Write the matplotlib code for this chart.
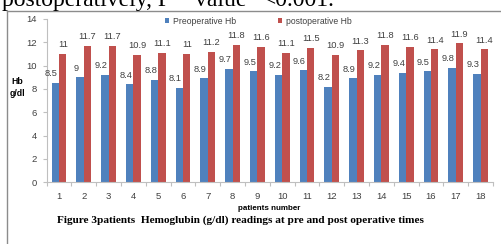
import matplotlib.pyplot as plt
import numpy as np
from matplotlib.lines import Line2D

patients = [str(i) for i in range(1, 19)]
pre_hb = [8.5, 9, 9.2, 8.4, 8.8, 8.1, 8.9, 9.7, 9.5, 9.2, 9.6, 8.2, 8.9, 9.2, 9.4, 9.5, 9.8, 9.3]
post_hb = [11, 11.7, 11.7, 10.9, 11.1, 11, 11.2, 11.8, 11.6, 11.1, 11.5, 10.9, 11.3, 11.8, 11.6, 11.4, 11.9, 11.4]
y_ticks = [0, 2, 4, 6, 8, 10, 12, 14]

BLUE = "#4F81BD"
RED = "#C0504D"
GRID = "#BFBFBF"
TXT = "#404040"
SANS = "Liberation Sans"
SERIF = "Liberation Serif"

fig = plt.figure(figsize=(5.02, 2.44), dpi=100)
W, H = 502, 244


def fx(px):
    return px / W


def fy(py):
    return 1 - py / H


# justified page text above the figure, cut off by the crop
for px, word in [(2, "postoperatively, P"), (195, "value"), (263, "<0.001.")]:
    fig.text(fx(px), fy(6), word, family=SERIF, fontsize=17,
             va="baseline", ha="left", color="black")

# outer frame
fig.add_artist(Line2D([fx(7), fx(7)], [fy(11), 0], color="#8c8c8c", lw=1.0))
fig.add_artist(Line2D([fx(7), 1], [fy(11), fy(11)], color="#8c8c8c", lw=1.0))

ax = fig.add_axes([fx(46.6), fy(182.3), fx(493 - 46.6), (182.3 - 19) / H])
x = np.arange(len(patients))
w = 0.3
b1 = ax.bar(x - w / 2, pre_hb, w, color=BLUE, label="Preoperative Hb")
b2 = ax.bar(x + w / 2, post_hb, w, color=RED, label="postoperative Hb")

for xi, v in zip(x, pre_hb):
    ax.text(xi - w, v + 0.4, f"{v:g}", ha="center", va="bottom",
            fontsize=6.7, color=TXT, family=SANS)
for xi, v in zip(x, post_hb):
    ax.text(xi + w / 2, v + 0.4, f"{v:g}", ha="center", va="bottom",
            fontsize=6.7, color=TXT, family=SANS)

ax.set_xlim(-0.5, len(patients) - 0.5)
ax.set_ylim(0, 14)
ax.set_yticks(y_ticks)
ax.set_yticklabels([str(t) for t in y_ticks], fontsize=6.8, color=TXT, family=SANS)
ax.set_xticks(x)
ax.set_xticklabels(patients, fontsize=6.8, color=TXT, family=SANS)
ax.set_xticks(np.arange(-0.5, len(patients)), minor=True)
ax.tick_params(axis="x", which="major", length=0, pad=7)
ax.tick_params(axis="x", which="minor", length=3, color=GRID, width=0.8)
ax.tick_params(axis="y", length=3, color=GRID, width=0.8, pad=4)
for s in ["top", "right"]:
    ax.spines[s].set_visible(False)
for s in ["left", "bottom"]:
    ax.spines[s].set_color(GRID)
    ax.spines[s].set_linewidth(0.8)

ax.set_ylabel("Hb\ng/dl", rotation=0, fontsize=6.3, fontweight="bold",
              color="black", labelpad=0, family=SANS, linespacing=1.4)
ax.yaxis.set_label_coords((17 - 46.6) / (493 - 46.6), (182.3 - 98) / (182.3 - 19))

fig.legend(handles=[b1, b2], loc="center left", bbox_to_anchor=(fx(165), fy(21)),
           ncol=2, frameon=False, prop={"family": SANS, "size": 6.2},
           handlelength=0.5, handleheight=0.5, handletextpad=0.4,
           columnspacing=4.9, labelcolor=TXT, borderpad=0, borderaxespad=0)

fig.text(fx(269), fy(209), "patients number", ha="center", va="center",
         fontsize=5.8, fontweight="bold", color="black", family=SANS)
fig.text(fx(57), fy(220), "Figure 3patients  Hemoglubin (g/dl) readings at pre and post operative times",
         ha="left", va="center", family=SERIF, fontweight="bold",
         fontsize=8.1, color="black")

fig.savefig("out.png", dpi=100)
